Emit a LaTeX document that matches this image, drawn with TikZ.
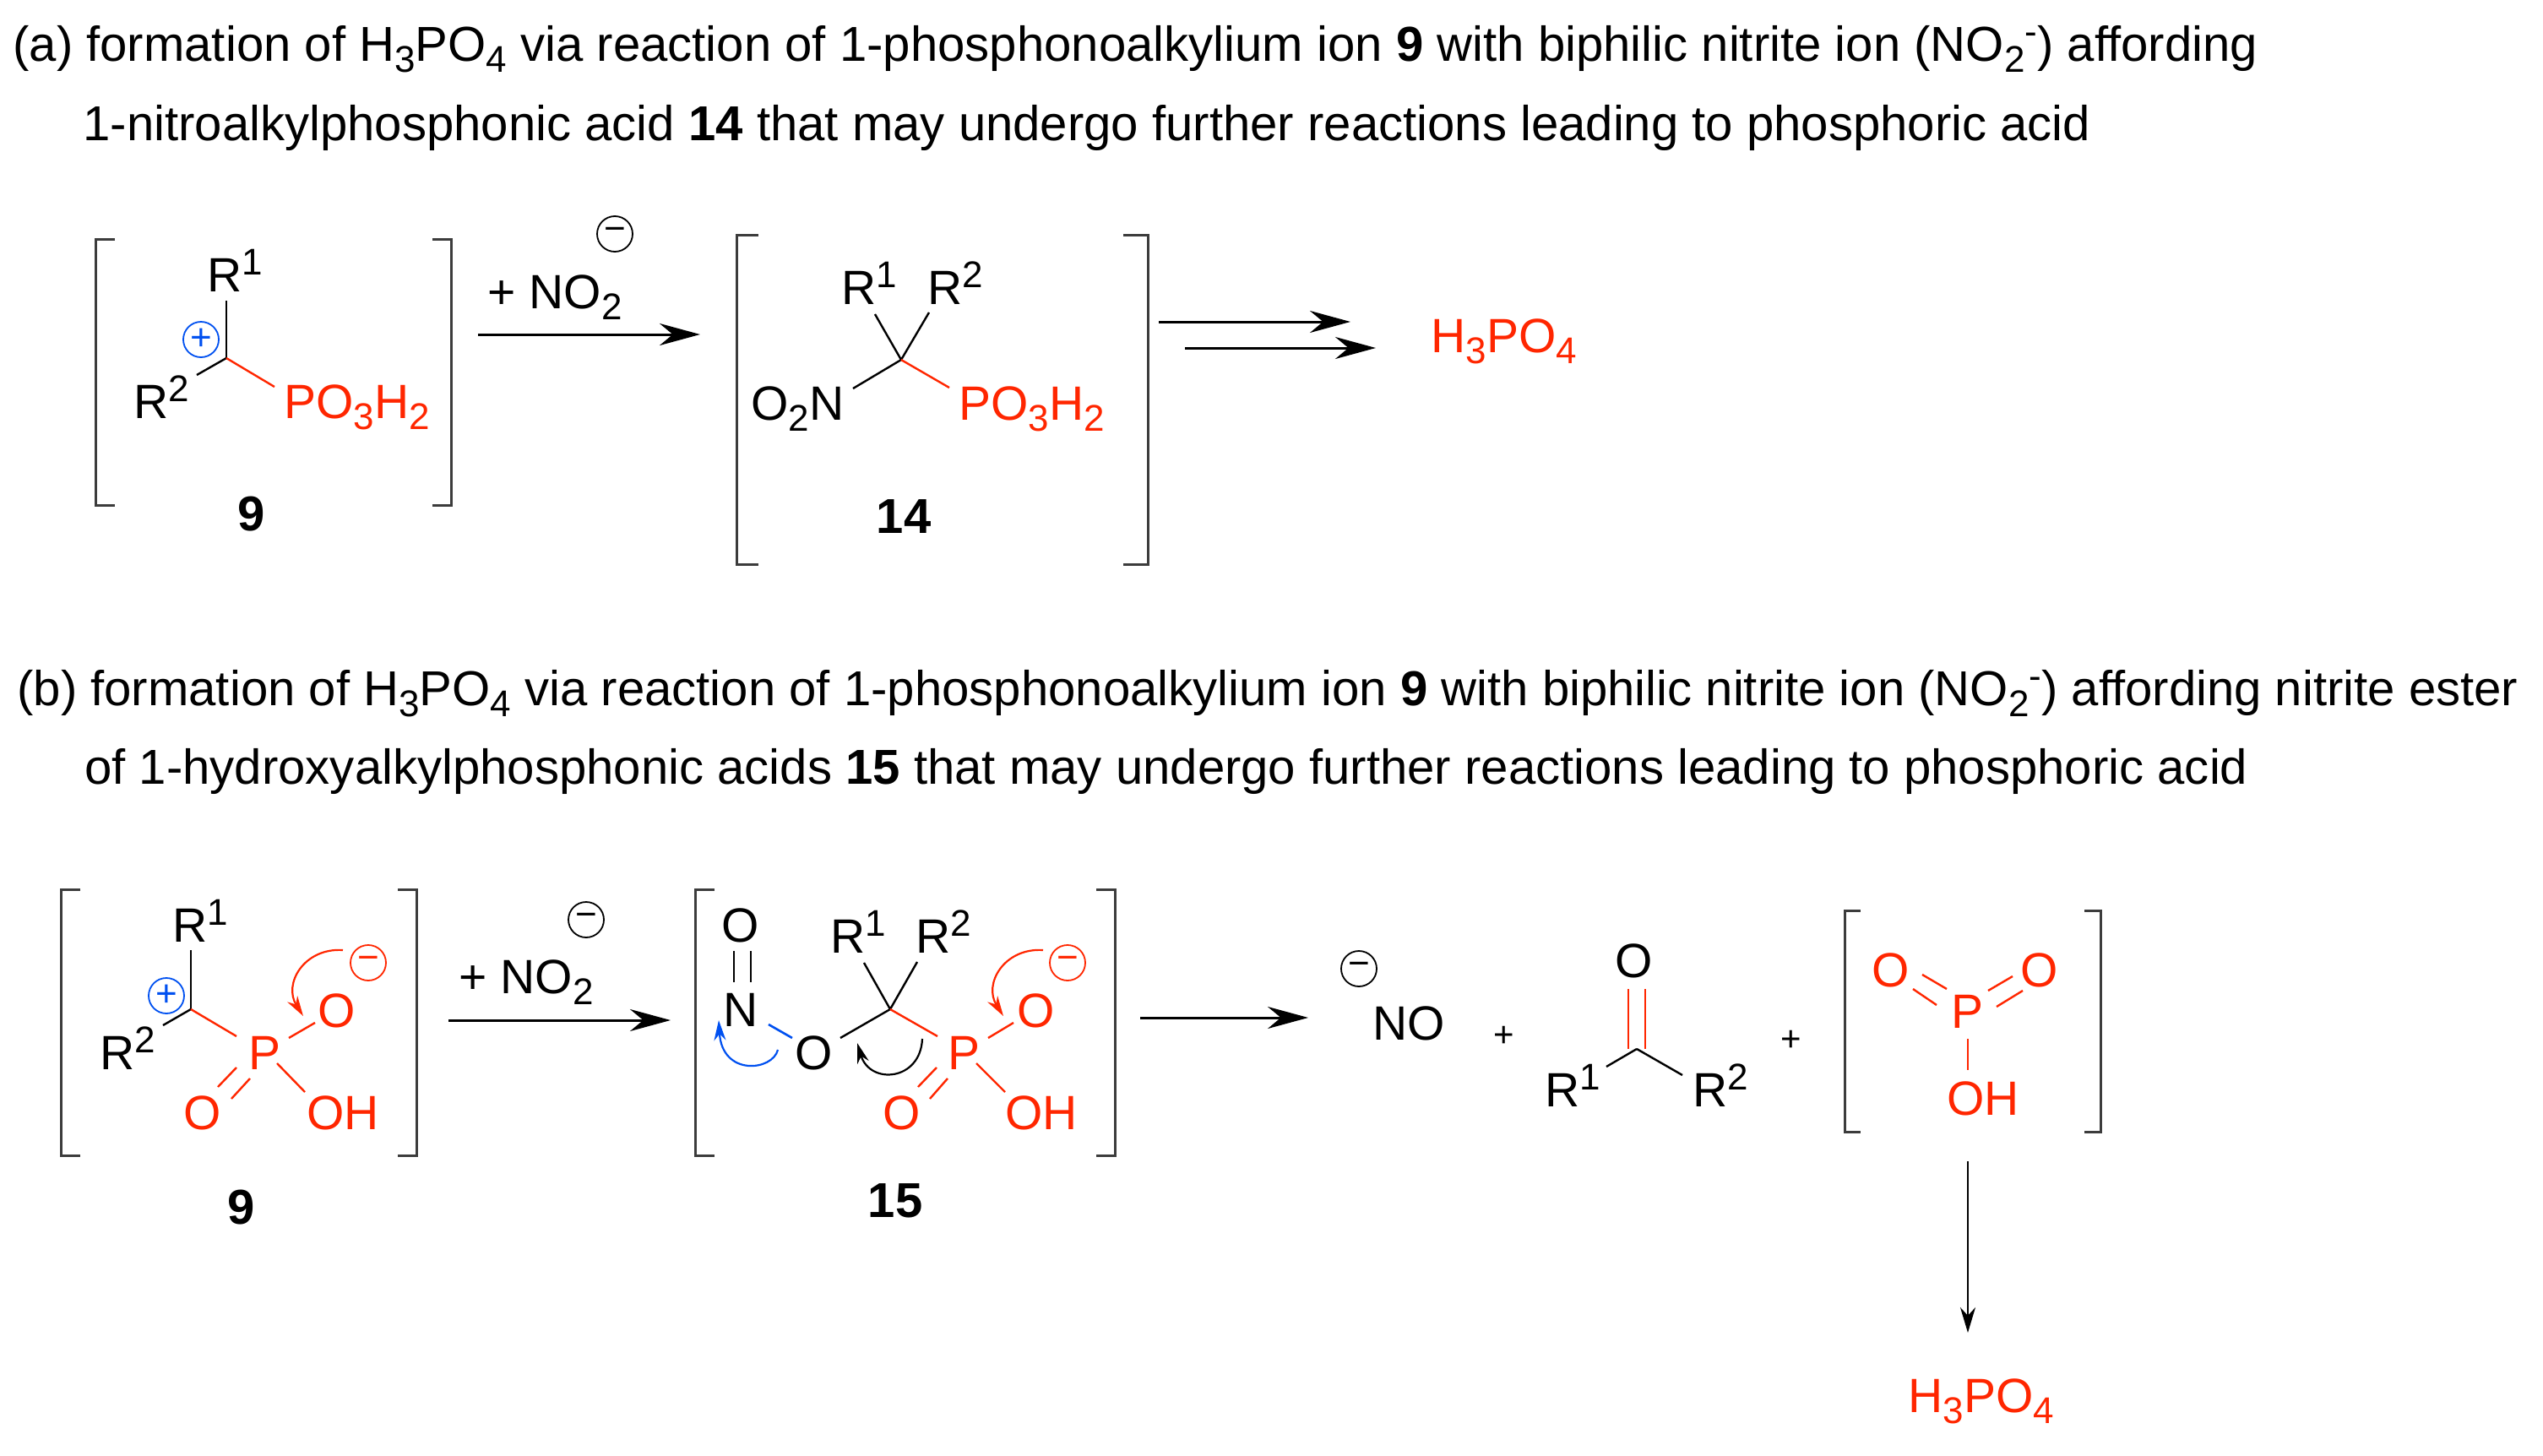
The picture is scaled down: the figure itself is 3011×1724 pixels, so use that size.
\documentclass[tikz,border=0pt]{standalone}
\usepackage{fontspec}
\setmainfont{Liberation Sans}
\usetikzlibrary{arrows.meta}
\definecolor{chemred}{RGB}{255,38,0}
\definecolor{chemblue}{RGB}{0,80,240}
\definecolor{brk}{RGB}{60,60,60}
\newcommand\csub[1]{\raisebox{-6.5pt}{\fontsize{22}{22}\selectfont #1}}
\newcommand\csup[1]{\raisebox{10pt}{\fontsize{22}{22}\selectfont #1}}
\tikzset{
  bond/.style={line width=1.2pt,black},
  redbond/.style={line width=1.2pt,chemred},
  bluebond/.style={line width=1.3pt,chemblue},
  bracket/.style={line width=1.5pt,brk},
  rxn/.style={line width=1.5pt,black,-{Stealth[length=24pt,width=13pt]}},
  thinrxn/.style={line width=1pt,black,-{Stealth[length=15pt,width=9pt]}},
  curvy/.style={line width=1.1pt,-{Stealth[length=12pt,width=7pt]}},
  lab/.style={anchor=base west,inner sep=0pt,xshift=-2pt,font=\fontsize{28.5}{30}\selectfont},
  redlab/.style={lab,text=chemred},
  num/.style={inner sep=0pt,font=\fontsize{29}{30}\selectfont\bfseries},
  title/.style={anchor=base west,inner sep=0pt,font=\fontsize{29.05}{30}\selectfont},
  minus/.style={circle,draw,inner sep=0pt,minimum size=21pt,line width=0.9pt,font=\fontsize{22}{22}\selectfont},
  smallplus/.style={inner sep=0pt,font=\fontsize{21}{21}\selectfont},
}
\begin{document}
\begin{tikzpicture}[x=0.5pt,y=-0.5pt]
\useasboundingbox (0,0) rectangle (3011,1724);

% titles
\node[title] (t1) at (15,72) {(a) formation of H\csub{3}PO\csub{4} via reaction of 1-phosphonoalkylium ion \textbf{9} with biphilic nitrite ion (NO\csub{2}\csup{-}) affording};
\node[title] (t2) at (98,166) {1-nitroalkylphosphonic acid \textbf{14} that may undergo further reactions leading to phosphoric acid};
\node[title] (t3) at (20,835) {(b) formation of H\csub{3}PO\csub{4} via reaction of 1-phosphonoalkylium ion \textbf{9} with biphilic nitrite ion (NO\csub{2}\csup{-}) affording nitrite ester};
\node[title] (t4) at (100,928) {of 1-hydroxyalkylphosphonic acids \textbf{15} that may undergo further reactions leading to phosphoric acid};

% ---- scheme (a), compound 9
\draw[bracket] (136,283) -- (113,283) -- (113,598) -- (136,598);
\draw[bracket] (512,283) -- (534,283) -- (534,598) -- (512,598);
\node[lab] (aR1) at (249,345) {R\csup{1}};
\node[lab] (aR2) at (162,495) {R\csup{2}};
\node[redlab] (aP) at (340,495) {PO\csub{3}H\csub{2}};
\node[minus,text=chemblue,draw=chemblue] (aplus) at (238,402) {+};
\node[num] (a9) at (298,609) {9};
\coordinate (aC) at (268,424);
\coordinate (aC1) at (268,356);
\coordinate (aC2) at (233,444);
\coordinate (aC3) at (325,458);
\draw[bond] (aC) -- (aC1);
\draw[bond] (aC) -- (aC2);
\draw[redbond] (aC) -- (aC3);
% reagent
\node[lab] (aNO) at (581,365) {+ NO\csub{2}};
\node[minus] (aminus) at (728,277) {−};
\coordinate (aA1) at (566,396);
\coordinate (aA2) at (829,396);
\draw[rxn] (aA1) -- (aA2);
% compound 14
\draw[bracket] (898,278) -- (872,278) -- (872,668) -- (898,668);
\draw[bracket] (1330,278) -- (1359,278) -- (1359,668) -- (1330,668);
\node[lab] (bR1) at (1000,360) {R\csup{1}};
\node[lab] (bR2) at (1102,360) {R\csup{2}};
\node[lab] (bN) at (893,497) {O\csub{2}N};
\node[redlab] (bP) at (1139,497) {PO\csub{3}H\csub{2}};
\node[num] (b14) at (1070,612) {14};
\coordinate (bC) at (1067,426);
\coordinate (bC1) at (1036,372);
\coordinate (bC2) at (1100,370);
\coordinate (bC3) at (1010,460);
\coordinate (bC4) at (1124,459);
\draw[bond] (bC) -- (bC1);
\draw[bond] (bC) -- (bC2);
\draw[bond] (bC) -- (bC3);
\draw[redbond] (bC) -- (bC4);
% double arrows and product
\coordinate (cA1) at (1372,381);
\coordinate (cA2) at (1599,381);
\coordinate (cB1) at (1403,412);
\coordinate (cB2) at (1629,412);
\draw[rxn] (cA1) -- (cA2);
\draw[rxn] (cB1) -- (cB2);
\node[redlab] (cH) at (1698,417) {H\csub{3}PO\csub{4}};

% ---- scheme (b), compound 9
\draw[bracket] (95,1053) -- (72,1053) -- (72,1368) -- (95,1368);
\draw[bracket] (471,1053) -- (493,1053) -- (493,1368) -- (471,1368);
\node[lab] (dR1) at (208,1115) {R\csup{1}};
\node[lab] (dR2) at (122,1266) {R\csup{2}};
\node[redlab] (dP) at (298,1266) {P};
\node[redlab] (dO) at (380,1216) {O};
\node[redlab] (dOd) at (221,1337) {O};
\node[redlab] (dOH) at (367,1337) {OH};
\node[minus,text=chemblue,draw=chemblue] (dplus) at (197,1179) {+};
\node[minus,text=chemred,draw=chemred] (dminus) at (436,1140) {−};
\node[num] (d9) at (286,1430) {9};
\coordinate (dC) at (226,1195);
\coordinate (dC1) at (226,1125);
\coordinate (dC2) at (193,1214);
\coordinate (dC3) at (280,1227);
\coordinate (dPa) at (342,1229);
\coordinate (dOa) at (373,1211);
\coordinate (dPb) at (280,1264);
\coordinate (dOb) at (258,1287);
\coordinate (dPc) at (296,1277);
\coordinate (dOc) at (274,1301);
\coordinate (dPd) at (328,1259);
\coordinate (dHd) at (361,1293);
\draw[bond] (dC) -- (dC1);
\draw[bond] (dC) -- (dC2);
\draw[redbond] (dC) -- (dC3);
\draw[redbond] (dPa) -- (dOa);
\draw[redbond] (dPb) -- (dOb);
\draw[redbond] (dPc) -- (dOc);
\draw[redbond] (dPd) -- (dHd);
\coordinate (dS) at (406,1125);
\coordinate (dT) at (359,1203);
\draw[curvy,chemred] (dS) .. controls (360,1122) and (335,1165) .. (dT);
% reagent
\node[lab] (dNO) at (547,1176) {+ NO\csub{2}};
\node[minus] (dmin2) at (694,1089) {−};
\coordinate (dA1) at (531,1208);
\coordinate (dA2) at (794,1208);
\draw[rxn] (dA1) -- (dA2);
% compound 15
\draw[bracket] (846,1053) -- (823,1053) -- (823,1368) -- (846,1368);
\draw[bracket] (1298,1053) -- (1320,1053) -- (1320,1368) -- (1298,1368);
\node[lab] (eOt) at (858,1115) {O};
\node[lab] (eN) at (860,1215) {N};
\node[lab] (eO) at (945,1266) {O};
\node[lab] (eR1) at (987,1128) {R\csup{1}};
\node[lab] (eR2) at (1088,1128) {R\csup{2}};
\node[redlab] (eP) at (1126,1266) {P};
\node[redlab] (eOa) at (1208,1216) {O};
\node[redlab] (eOd) at (1049,1337) {O};
\node[redlab] (eOH) at (1194,1337) {OH};
\node[minus,text=chemred,draw=chemred] (eminus) at (1264,1140) {−};
\node[num] (e15) at (1060,1422) {15};
\coordinate (eC) at (1054,1195);
\coordinate (eC1) at (1023,1140);
\coordinate (eC2) at (1086,1139);
\coordinate (eC3) at (995,1229);
\coordinate (eC4) at (1110,1227);
\coordinate (eNa) at (869,1126);
\coordinate (eNb) at (869,1163);
\coordinate (eNc) at (889,1126);
\coordinate (eNd) at (889,1163);
\coordinate (eNO1) at (910,1213);
\coordinate (eNO2) at (938,1229);
\coordinate (ePa) at (1170,1229);
\coordinate (eOe) at (1200,1211);
\coordinate (ePb) at (1109,1264);
\coordinate (eOb) at (1087,1287);
\coordinate (ePc) at (1122,1277);
\coordinate (eOc) at (1101,1301);
\coordinate (ePd) at (1156,1259);
\coordinate (eHd) at (1190,1293);
\draw[bond] (eC) -- (eC1);
\draw[bond] (eC) -- (eC2);
\draw[bond] (eC) -- (eC3);
\draw[redbond] (eC) -- (eC4);
\draw[bond] (eNa) -- (eNb);
\draw[bond] (eNc) -- (eNd);
\draw[bluebond] (eNO1) -- (eNO2);
\draw[redbond] (ePa) -- (eOe);
\draw[redbond] (ePb) -- (eOb);
\draw[redbond] (ePc) -- (eOc);
\draw[redbond] (ePd) -- (eHd);
\coordinate (eS) at (1235,1125);
\coordinate (eT) at (1188,1203);
\draw[curvy,chemred] (eS) .. controls (1189,1122) and (1164,1165) .. (eT);
\coordinate (eBS) at (921,1243);
\coordinate (eBT) at (851,1208);
\draw[curvy,chemblue] (eBS) .. controls (915,1268) and (855,1275) .. (eBT);
\coordinate (eKS) at (1092,1230);
\coordinate (eKT) at (1015,1235);
\draw[curvy,black] (eKS) .. controls (1090,1280) and (1030,1285) .. (eKT);
\coordinate (eA1) at (1350,1205);
\coordinate (eA2) at (1549,1205);
\draw[rxn] (eA1) -- (eA2);
% products
\node[minus] (fmin) at (1609,1147) {−};
\node[lab] (fNO) at (1629,1231) {NO};
\node[smallplus] (fp1) at (1781,1227) {+};
\node[smallplus] (fp2) at (2121,1232) {+};
\node[lab] (fO) at (1916,1157) {O};
\node[lab] (fR1) at (1833,1310) {R\csup{1}};
\node[lab] (fR2) at (2008,1310) {R\csup{2}};
\coordinate (fC) at (1938,1242);
\coordinate (fR1e) at (1902,1263);
\coordinate (fR2e) at (1992,1273);
\coordinate (fa) at (1928,1171);
\coordinate (fb) at (1928,1242);
\coordinate (fc) at (1948,1171);
\coordinate (fd) at (1948,1242);
\draw[bond] (fC) -- (fR1e);
\draw[bond] (fC) -- (fR2e);
\draw[redbond] (fa) -- (fb);
\draw[redbond] (fc) -- (fd);
% metaphosphoric acid
\draw[bracket] (2203,1078) -- (2184,1078) -- (2184,1340) -- (2203,1340);
\draw[bracket] (2468,1078) -- (2487,1078) -- (2487,1340) -- (2468,1340);
\node[redlab] (gOl) at (2220,1168) {O};
\node[redlab] (gOr) at (2396,1168) {O};
\node[redlab] (gP) at (2314,1217) {P};
\node[redlab] (gOH) at (2309,1320) {OH};
\coordinate (ga1) at (2276,1154);
\coordinate (ga2) at (2305,1171);
\coordinate (gb1) at (2265,1171);
\coordinate (gb2) at (2293,1190);
\coordinate (gc1) at (2383,1156);
\coordinate (gc2) at (2354,1173);
\coordinate (gd1) at (2395,1173);
\coordinate (gd2) at (2364,1192);
\coordinate (ge1) at (2330,1230);
\coordinate (ge2) at (2330,1267);
\draw[redbond] (ga1) -- (ga2);
\draw[redbond] (gb1) -- (gb2);
\draw[redbond] (gc1) -- (gc2);
\draw[redbond] (gd1) -- (gd2);
\draw[redbond] (ge1) -- (ge2);
\coordinate (gA1) at (2330,1375);
\coordinate (gA2) at (2330,1578);
\draw[thinrxn] (gA1) -- (gA2);
\node[redlab] (gH) at (2263,1672) {H\csub{3}PO\csub{4}};
\end{tikzpicture}
\end{document}
